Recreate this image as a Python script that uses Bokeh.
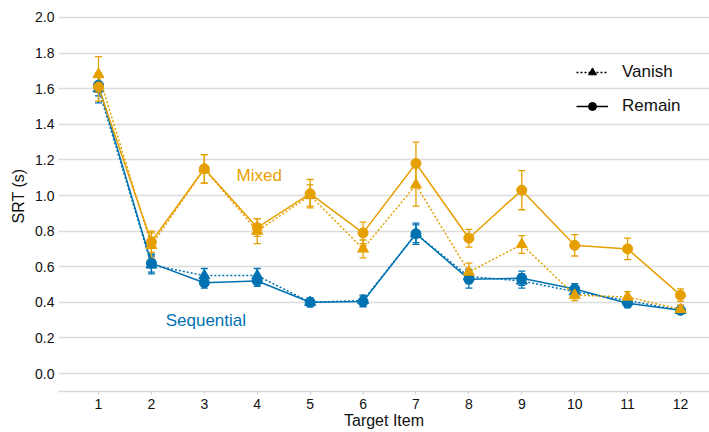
from bokeh.plotting import figure
from bokeh.models import (ColumnDataSource, Whisker, TeeHead, Legend, LegendItem,
                          Label, FixedTicker, Range1d, CustomJSTickFormatter)
from bokeh.embed import file_html
from bokeh.resources import INLINE

items = [1, 2, 3, 4, 5, 6, 7, 8, 9, 10, 11, 12]
x_ticks = items
y_ticks = [0.0, 0.2, 0.4, 0.6, 0.8, 1.0, 1.2, 1.4, 1.6, 1.8, 2.0]

mixed_remain = [1.61, 0.74, 1.15, 0.82, 1.01, 0.79, 1.18, 0.76, 1.03, 0.72, 0.70, 0.44]
mixed_remain_err = [0.08, 0.06, 0.08, 0.05, 0.08, 0.06, 0.12, 0.05, 0.11, 0.06, 0.06, 0.035]
mixed_vanish = [1.68, 0.72, 1.15, 0.80, 1.00, 0.70, 1.06, 0.57, 0.725, 0.44, 0.43, 0.36]
mixed_vanish_err = [0.10, 0.07, 0.08, 0.07, 0.06, 0.05, 0.12, 0.05, 0.05, 0.03, 0.03, 0.025]
seq_remain = [1.62, 0.62, 0.51, 0.52, 0.40, 0.405, 0.785, 0.53, 0.535, 0.475, 0.395, 0.355]
seq_remain_err = [0.06, 0.05, 0.03, 0.03, 0.02, 0.03, 0.06, 0.05, 0.04, 0.03, 0.025, 0.02]
seq_vanish = [1.60, 0.61, 0.55, 0.55, 0.40, 0.41, 0.785, 0.545, 0.52, 0.46, 0.41, 0.355]
seq_vanish_err = [0.08, 0.05, 0.04, 0.04, 0.025, 0.03, 0.05, 0.04, 0.04, 0.03, 0.025, 0.02]

ORANGE = "#E69F00"
BLUE = "#0072B2"
FONT = "Liberation Sans"

p = figure(width=709, height=432, output_backend="svg", toolbar_location=None,
           x_range=Range1d(0.244, 12.548), y_range=Range1d(-0.1011, 2.0955),
           min_border_left=58, min_border_right=0, min_border_top=0, min_border_bottom=41)
p.outline_line_color = None
p.background_fill_color = "white"
p.xgrid.grid_line_color = None
p.ygrid.grid_line_color = "#dcdcdc"
p.ygrid.grid_line_width = 1.5

p.xaxis.ticker = FixedTicker(ticks=x_ticks)
p.yaxis.ticker = FixedTicker(ticks=y_ticks)
p.yaxis.formatter = CustomJSTickFormatter(code="return tick.toFixed(1);")

for ax in (p.xaxis, p.yaxis):
    ax.major_label_text_font = FONT
    ax.major_label_text_font_size = "14px"
    ax.major_label_text_color = "#111111"
    ax.axis_label_text_font = FONT
    ax.axis_label_text_font_size = "16px"
    ax.axis_label_text_font_style = "normal"
    ax.axis_label_text_color = "#111111"
    ax.minor_tick_line_color = None

p.xaxis.axis_label = "Target Item"
p.xaxis.axis_line_color = "#d9d9d9"
p.xaxis.axis_line_width = 1.5
p.xaxis.major_tick_line_color = "#cccccc"
p.xaxis.major_tick_out = 3
p.xaxis.major_tick_in = 0
p.xaxis.major_label_standoff = 4
p.xaxis.axis_label_standoff = 0

p.yaxis.axis_label = "SRT (s)"
p.yaxis.axis_line_color = None
p.yaxis.major_tick_line_color = None
p.yaxis.major_tick_out = 0
p.yaxis.major_tick_in = 0
p.yaxis.major_label_standoff = 4
p.yaxis.axis_label_standoff = 5


def add_series(vals, errs, color, marker, dash):
    src = ColumnDataSource(dict(
        x=items, y=vals,
        lo=[v - e for v, e in zip(vals, errs)],
        hi=[v + e for v, e in zip(vals, errs)]))
    w = Whisker(base="x", upper="hi", lower="lo", source=src,
                line_color=color, line_width=1.3,
                upper_head=TeeHead(size=7, line_color=color, line_width=1.3),
                lower_head=TeeHead(size=7, line_color=color, line_width=1.3))
    p.add_layout(w)
    p.line("x", "y", source=src, line_color=color, line_width=1.5, line_dash=dash)
    if marker == "circle":
        p.scatter("x", "y", source=src, marker="circle", size=10,
                  fill_color=color, line_color=color)
    else:
        p.scatter("x", "y", source=src, marker="triangle", size=11,
                  fill_color=color, line_color=color)


add_series(seq_vanish, seq_vanish_err, BLUE, "triangle", "2 2")
add_series(seq_remain, seq_remain_err, BLUE, "circle", "solid")
add_series(mixed_vanish, mixed_vanish_err, ORANGE, "triangle", "2 2")
add_series(mixed_remain, mixed_remain_err, ORANGE, "circle", "solid")

# legend proxies (black)
lv = p.line([float("nan")], [float("nan")], line_color="black", line_width=1.3, line_dash="2 2")
sv = p.scatter([float("nan")], [float("nan")], marker="triangle", size=11,
               fill_color="black", line_color="black")
lr = p.line([float("nan")], [float("nan")], line_color="black", line_width=1.5)
sr = p.scatter([float("nan")], [float("nan")], marker="circle", size=10,
               fill_color="black", line_color="black")

legend = Legend(items=[LegendItem(label="Vanish", renderers=[lv, sv]),
                       LegendItem(label="Remain", renderers=[lr, sr])],
                location=(518, 275))
legend.border_line_color = None
legend.background_fill_alpha = 0
legend.padding = 0
legend.margin = 0
legend.spacing = 14
legend.glyph_width = 32
legend.glyph_height = 20
legend.label_height = 20
legend.label_standoff = 14
legend.label_text_font = FONT
legend.label_text_font_size = "17px"
legend.label_text_color = "#111111"
p.add_layout(legend, "center")

p.add_layout(Label(x=3.61, y=1.11, text="Mixed", text_color=ORANGE,
                   text_font=FONT, text_font_size="17px", text_baseline="middle",
                   text_align="left"))
p.add_layout(Label(x=2.27, y=0.30, text="Sequential", text_color=BLUE,
                   text_font=FONT, text_font_size="17px", text_baseline="middle",
                   text_align="left"))

open("out.html", "w").write(file_html(p, INLINE))
